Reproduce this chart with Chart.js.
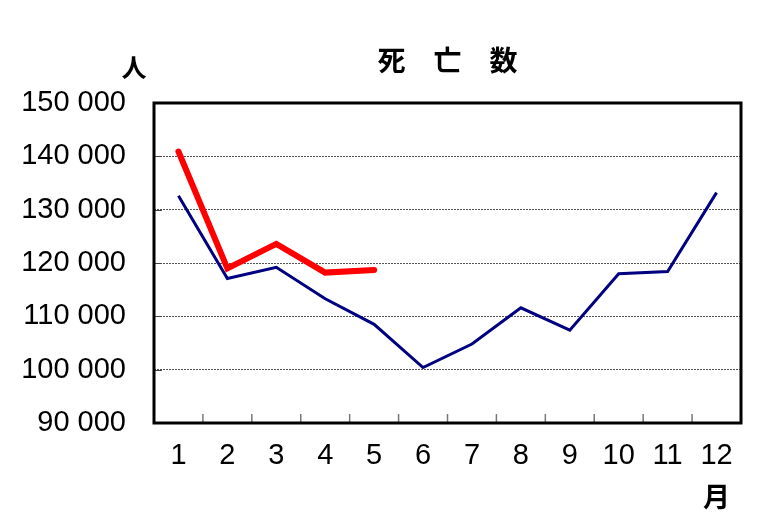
<!DOCTYPE html>
<html>
<head>
<meta charset="utf-8">
<script src="https://cdn.jsdelivr.net/npm/chart.js@4/dist/chart.umd.min.js"></script>
<style>
html,body{margin:0;padding:0;background:#fff;}
#wrap{width:780px;height:528px;position:relative;}
</style>
</head>
<body>
<div id="wrap"><canvas id="c" width="780" height="528"></canvas></div>
<script>
const months = ['1','2','3','4','5','6','7','8','9','10','11','12'];
const prevYear = [132600, 117100, 119200, 113300, 108500, 100400, 104800, 111600, 107400, 118000, 118400, 133200];
const thisYear = [140900, 119000, 123600, 118200, 118700, null, null, null, null, null, null, null];
const yTicks = [90000, 100000, 110000, 120000, 130000, 140000, 150000];
const titleText = '死　亡　数';
const yUnit = '人';
const xUnit = '月';

const numFont = "'Liberation Sans', Arial, sans-serif";
const cjkFont = "'Noto Sans CJK JP', sans-serif";

function fmt(v){ return String(v).replace(/\B(?=(\d{3})+(?!\d))/g, ' '); }

const decor = {
  id: 'decor',
  afterDraw(chart){
    const ctx = chart.ctx, a = chart.chartArea;
    const xs = chart.scales.x, ys = chart.scales.y;
    ctx.save();
    ctx.strokeStyle = '#777'; ctx.lineWidth = 1.5;
    for (let i = 1; i < months.length; i++){
      const x = (xs.getPixelForValue(i-1) + xs.getPixelForValue(i)) / 2;
      ctx.beginPath(); ctx.moveTo(x, a.bottom); ctx.lineTo(x, a.bottom - 9); ctx.stroke();
    }
    ctx.strokeStyle = '#444'; ctx.lineWidth = 1;
    yTicks.slice(1, -1).forEach(v => {
      const y = Math.round(ys.getPixelForValue(v)) + 0.5;
      ctx.beginPath(); ctx.moveTo(a.left, y); ctx.lineTo(a.left + 8, y); ctx.stroke();
    });
    ctx.strokeStyle = '#000'; ctx.lineWidth = 3;
    ctx.strokeRect(a.left, a.top, a.right - a.left, a.bottom - a.top);
    ctx.fillStyle = '#000';
    ctx.textAlign = 'center'; ctx.textBaseline = 'middle';
    ctx.font = 'bold 28px ' + cjkFont;
    ctx.fillText(titleText, (a.left + a.right) / 2, a.top - 43);
    ctx.font = 'bold 25px ' + cjkFont;
    ctx.fillText(yUnit, a.left - 20, a.top - 36);
    ctx.font = 'bold 27px ' + cjkFont;
    ctx.fillText(xUnit, xs.getPixelForValue(months.length - 1), a.bottom + 74);
    ctx.restore();
  }
};

new Chart(document.getElementById('c'), {
  type: 'line',
  data: {
    labels: months,
    datasets: [
      { label: 'this', data: thisYear, borderColor: '#FF0000', borderWidth: 6, pointRadius: 0, tension: 0, spanGaps: false, borderCapStyle: 'round', borderJoinStyle: 'miter', order: 0 },
      { label: 'prev', data: prevYear, borderColor: '#000080', borderWidth: 3, pointRadius: 0, tension: 0, borderJoinStyle: 'miter', order: 1 }
    ]
  },
  options: {
    responsive: false,
    animation: false,
    devicePixelRatio: 1,
    layout: { padding: { top: 103, right: 39, left: 0, bottom: 0 } },
    plugins: { legend: { display: false }, tooltip: { enabled: false }, title: { display: false } },
    scales: {
      x: {
        offset: true,
        grid: { display: false, drawTicks: false },
        border: { display: false },
        ticks: { color: '#000', font: { family: numFont, size: 29 }, padding: 16, maxRotation: 0, autoSkip: false },
        afterFit(s){ s.height = 105; }
      },
      y: {
        min: 90000, max: 150000,
        afterBuildTicks(s){ s.ticks = yTicks.map(v => ({ value: v })); },
        grid: {
          drawTicks: false,
          color: c => (c.tick && (c.tick.value === 90000 || c.tick.value === 150000)) ? 'rgba(0,0,0,0)' : '#555',
          lineWidth: 1
        },
        border: { display: false, dash: [2, 1] },
        ticks: { color: '#000', font: { family: numFont, size: 29 }, padding: 28, callback: v => fmt(v) },
        afterFit(s){ s.width = 154; }
      }
    }
  },
  plugins: [decor]
});
</script>
</body>
</html>
